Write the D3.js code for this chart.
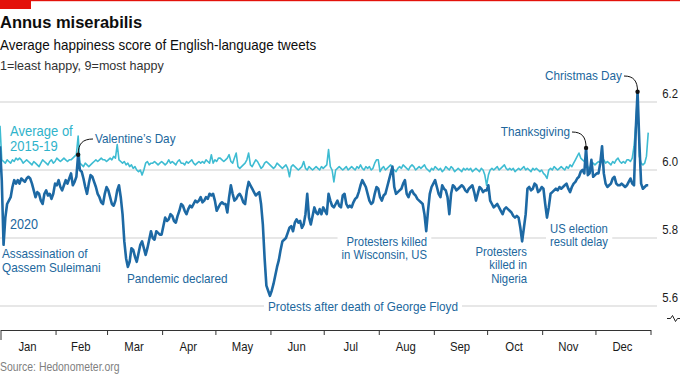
<!DOCTYPE html>
<html>
<head>
<meta charset="utf-8">
<script src="https://cdn.jsdelivr.net/npm/d3@7"></script>
<style>
  body { margin: 0; background: #fff; }
  svg { display: block; font-family: "Liberation Sans", Arial, sans-serif; }
</style>
</head>
<body>
<svg id="chart" width="680" height="375"></svg>
<script>
// daily happiness score, one value per day of 2020 (leap year, 366 days)
const happy2020 = [
  // Jan
  6.07, 5.97, 5.78, 5.86, 5.90, 5.91, 5.92, 5.95, 5.97, 5.96, 5.97, 5.96, 5.975, 5.97, 5.965, 5.975,
  5.98, 5.975, 5.96, 5.94, 5.92, 5.935, 5.93, 5.91, 5.90, 5.93, 5.94, 5.925, 5.93, 5.915, 5.93,
  // Feb
  5.96, 5.955, 5.97, 5.95, 5.94, 5.955, 5.97, 5.96, 5.975, 5.99, 5.955, 5.965, 5.98, 6.045, 6.00,
  5.995, 5.975, 5.95, 5.93, 5.96, 5.985, 5.98, 5.965, 5.95, 5.93, 5.92, 5.905, 5.90, 5.93,
  // Mar
  5.95, 5.94, 5.92, 5.90, 5.895, 5.91, 5.94, 5.955, 5.92, 5.87, 5.79, 5.74, 5.715, 5.73, 5.77, 5.765,
  5.745, 5.73, 5.755, 5.78, 5.79, 5.77, 5.75, 5.77, 5.795, 5.82, 5.80, 5.795, 5.82, 5.815, 5.81,
  // Apr
  5.81, 5.835, 5.86, 5.85, 5.855, 5.87, 5.865, 5.85, 5.845, 5.865, 5.88, 5.90, 5.895, 5.88, 5.87,
  5.885, 5.895, 5.89, 5.90, 5.91, 5.905, 5.91, 5.92, 5.905, 5.91, 5.92, 5.915, 5.93, 5.925, 5.93,
  // May
  5.91, 5.88, 5.89, 5.90, 5.905, 5.90, 5.90, 5.875, 5.92, 5.955, 5.93, 5.91, 5.915, 5.925, 5.93, 5.92,
  5.905, 5.90, 5.94, 5.965, 5.955, 5.945, 5.935, 5.925, 5.93, 5.935, 5.90, 5.84, 5.74, 5.66, 5.645,
  // Jun
  5.63, 5.645, 5.665, 5.69, 5.715, 5.735, 5.765, 5.79, 5.795, 5.80, 5.815, 5.83, 5.835, 5.82, 5.845,
  5.855, 5.845, 5.85, 5.83, 5.84, 5.87, 5.93, 5.86, 5.84, 5.865, 5.89, 5.875, 5.87, 5.885, 5.87,
  // Jul
  5.89, 5.88, 5.87, 5.93, 5.91, 5.895, 5.89, 5.90, 5.91, 5.895, 5.89, 5.925, 5.93, 5.90, 5.89, 5.895,
  5.89, 5.905, 5.915, 5.92, 5.935, 5.955, 5.97, 5.96, 5.95, 5.93, 5.91, 5.90, 5.905, 5.93, 5.95,
  // Aug
  5.945, 5.92, 5.91, 5.925, 5.93, 5.95, 5.97, 5.99, 6.01, 5.95, 5.93, 5.935, 5.94, 5.945, 5.96, 5.97,
  5.93, 5.92, 5.935, 5.94, 5.93, 5.925, 5.915, 5.91, 5.905, 5.90, 5.87, 5.82, 5.88, 5.93, 5.95,
  // Sep
  5.96, 5.97, 5.95, 5.93, 5.92, 5.955, 5.945, 5.94, 5.92, 5.87, 5.93, 5.955, 5.95, 5.94, 5.945,
  5.95, 5.955, 5.95, 5.94, 5.935, 5.945, 5.95, 5.955, 5.935, 5.91, 5.93, 5.95, 5.945, 5.935, 5.94,
  // Oct
  5.94, 5.955, 5.91, 5.90, 5.89, 5.895, 5.90, 5.89, 5.88, 5.87, 5.885, 5.89, 5.885, 5.88, 5.875, 5.865,
  5.86, 5.865, 5.86, 5.83, 5.79, 5.83, 5.87, 5.945, 5.95, 5.94, 5.945, 5.96, 5.955, 5.935, 5.94,
  // Nov
  5.95, 5.945, 5.90, 5.86, 5.89, 5.93, 5.935, 5.94, 5.945, 5.94, 5.95, 5.945, 5.95, 5.955, 5.96,
  5.945, 5.935, 5.95, 5.96, 5.965, 5.975, 5.98, 5.995, 6.00, 5.99, 6.065, 5.985, 5.99, 6.03, 5.98,
  // Dec
  5.985, 5.99, 5.99, 6.02, 6.07, 5.99, 5.96, 5.95, 5.955, 5.96, 5.975, 5.98, 5.96, 5.955, 5.955, 5.96,
  5.955, 5.95, 5.955, 5.965, 5.975, 5.96, 5.955, 6.12, 6.23, 6.08, 5.96, 5.945, 5.95, 5.955, 5.955
];

// average of 2015-19 for the same calendar days
const avg2015to19 = [
  // Jan
  6.13, 6.03, 6.025, 6.02, 6.03, 6.025, 6.02, 6.03, 6.025, 6.035, 6.03, 6.035, 6.03, 6.02, 6.025, 6.03,
  6.025, 6.02, 6.015, 6.025, 6.02, 6.015, 6.01, 6.02, 6.03, 6.025, 6.02, 6.015, 6.025, 6.03, 6.02,
  // Feb
  6.025, 6.035, 6.03, 6.025, 6.03, 6.035, 6.03, 6.025, 6.03, 6.03, 6.035, 6.04, 6.045, 6.10, 6.02,
  6.015, 6.01, 6.02, 6.015, 6.01, 6.015, 6.02, 6.025, 6.03, 6.025, 6.03, 6.035, 6.03, 6.03,
  // Mar
  6.025, 6.03, 6.035, 6.03, 6.04, 6.035, 6.075, 6.03, 6.025, 6.02, 6.025, 6.015, 6.02, 6.01, 6.015, 6.005,
  6.01, 6.00, 5.995, 6.00, 5.985, 6.00, 6.02, 6.025, 6.015, 6.02, 6.02, 6.025, 6.02, 6.015, 6.02,
  // Apr
  6.025, 6.02, 6.015, 6.02, 6.03, 6.02, 6.025, 6.02, 6.015, 6.025, 6.03, 6.02, 6.02, 6.015, 6.025,
  6.02, 6.025, 6.03, 6.02, 6.015, 6.02, 6.025, 6.02, 6.025, 6.02, 6.03, 6.025, 6.02, 6.045, 6.02,
  // May
  6.03, 6.025, 6.035, 6.035, 6.03, 6.025, 6.03, 6.035, 6.045, 6.025, 6.02, 6.035, 6.05, 6.01, 6.005, 6.01,
  6.015, 6.02, 6.03, 6.05, 6.015, 6.01, 6.02, 6.03, 6.025, 6.015, 6.005, 6.01, 6.02, 6.025, 6.02,
  // Jun
  6.015, 6.01, 6.005, 6.01, 6.02, 6.015, 6.01, 6.005, 6.01, 6.015, 6.005, 5.98, 6.01, 6.015, 6.01,
  6.005, 6.00, 6.005, 6.01, 6.025, 6.005, 6.00, 6.01, 6.005, 6.00, 6.005, 6.01, 6.005, 6.00, 6.01,
  // Jul
  6.005, 6.01, 6.015, 6.06, 6.01, 6.00, 5.965, 6.00, 6.005, 6.01, 6.005, 6.00, 6.005, 6.01, 6.00, 6.005,
  6.01, 6.005, 6.00, 6.01, 6.005, 6.015, 6.005, 6.00, 6.01, 6.005, 6.01, 6.00, 6.005, 6.02, 6.03,
  // Aug
  6.03, 5.995, 6.005, 6.01, 6.00, 6.005, 6.01, 6.015, 6.005, 6.00, 5.995, 6.005, 6.01, 6.005, 6.015, 6.01,
  6.005, 6.00, 6.01, 6.015, 6.01, 6.00, 6.005, 6.01, 6.005, 6.01, 6.015, 6.005, 6.00, 5.995, 6.005,
  // Sep
  6.00, 6.01, 6.005, 6.00, 6.005, 5.995, 6.00, 6.01, 6.005, 6.00, 6.01, 6.005, 5.995, 6.00, 6.005,
  6.00, 5.995, 6.005, 6.00, 6.005, 6.00, 6.005, 5.995, 6.00, 6.005, 6.00, 5.995, 6.005, 6.00, 5.985,
  // Oct
  5.955, 5.985, 6.00, 6.005, 6.00, 6.005, 6.01, 6.00, 6.005, 6.01, 6.015, 6.005, 6.00, 6.005, 6.00, 6.005,
  5.995, 6.00, 6.005, 6.00, 6.005, 6.01, 6.00, 6.005, 6.00, 5.995, 6.005, 6.00, 6.005, 6.00, 5.995,
  // Nov
  6.00, 5.99, 5.985, 5.975, 6.00, 6.005, 6.00, 6.01, 6.005, 6.00, 6.005, 6.01, 6.005, 6.00, 6.01,
  6.005, 6.015, 6.01, 6.02, 6.03, 6.04, 6.05, 6.035, 6.03, 6.025, 6.02, 6.01, 6.00, 6.015, 6.02,
  // Dec
  6.015, 6.02, 6.025, 6.02, 6.025, 6.03, 6.02, 6.025, 6.02, 6.015, 6.025, 6.02, 6.03, 6.035, 6.025, 6.02,
  6.025, 6.02, 6.03, 6.03, 6.025, 6.035, 6.07, 6.13, 6.23, 6.04, 6.02, 6.015, 6.02, 6.04, 6.11
];

const yTicks = [5.6, 5.8, 6.0, 6.2];
const monthLabels = ['Jan', 'Feb', 'Mar', 'Apr', 'May', 'Jun', 'Jul', 'Aug', 'Sep', 'Oct', 'Nov', 'Dec'];

// events with a black dot and a curved leader: [day index, label]
const pointed = [
  [44, "Valentine\u2019s Day"],
  [330, 'Thanksgiving'],
  [359, 'Christmas Day']
];

const darkBlue = '#1d69a4',
      darkText = '#21679d',
      lightBlue = '#3ebcd2',
      lightText = '#2fb3cb';

const svg = d3.select('#chart');

const dayDate = i => new Date(2020, 0, 1 + i);

const x = d3.scaleTime()
            .domain([new Date(2020, 0, 1), new Date(2021, 0, 1)])
            .range([0, 650]);

const y = d3.scaleLinear()
            .domain([5.6, 6.2])
            .range([306, 102]);

// the original face is a condensed sans, so squeeze the text a bit
function condense(t, k) {
  const w = t.node().getComputedTextLength();
  t.attr('textLength', w * k).attr('lengthAdjust', 'spacingAndGlyphs');
  return t;
}

function txt(s, px, py, size, color, k, anchor) {
  const t = svg.append('text')
               .attr('x', px)
               .attr('y', py)
               .attr('text-anchor', anchor || 'start')
               .style('font-size', size + 'px')
               .attr('fill', color)
               .text(s);
  return condense(t, k);
}

// red tag + top rule
svg.append('rect').attr('x', 0).attr('y', 0).attr('width', 680).attr('height', 1.2).attr('fill', '#e3120b');
svg.append('rect').attr('x', 0).attr('y', 0).attr('width', 31).attr('height', 9).attr('fill', '#e3120b');

svg.append('text').attr('x', 0).attr('y', 28)
   .style('font-weight', 700).style('font-size', '16.5px')
   .attr('fill', '#0d0d0d').text('Annus miserabilis');
txt('Average happiness score of English-language tweets', 0, 50, 15, '#0d0d0d', 0.895);
txt('1=least happy, 9=most happy', 0, 69.5, 13.5, '#333', 0.93);

// gridlines
svg.append('g').selectAll('line')
   .data(yTicks)
   .enter()
   .append('line')
   .attr('x1', 0)
   .attr('x2', 657)
   .attr('y1', d => y(d))
   .attr('y2', d => y(d))
   .attr('stroke', '#cfcfcf')
   .attr('stroke-width', 1.2);

yTicks.forEach(d => txt(d3.format('.1f')(d), 678, y(d) - 4, 13.5, '#1a1a1a', 0.84, 'end'));

// axis-break mark under the bottom label
svg.append('path')
   .attr('d', 'M667,318.5h3.5l2,-3l3,6l2,-3h2.5')
   .attr('fill', 'none').attr('stroke', '#222').attr('stroke-width', 1);

// x axis
const xAxis = d3.axisBottom(x)
                .ticks(d3.timeMonth.every(1))
                .tickSize(5)
                .tickSizeOuter(0)
                .tickFormat('');

const ax = svg.append('g')
              .attr('transform', 'translate(0.5, 330)')
              .call(xAxis);
ax.select('.domain').attr('stroke', '#333');
ax.selectAll('.tick line').attr('stroke', '#333');
ax.select('.tick line').attr('y2', 10);

monthLabels.forEach((m, i) => {
  const mid = (x(new Date(2020, i, 1)) + x(new Date(2020, i + 1, 1))) / 2;
  txt(m, mid, 351, 13.5, '#1a1a1a', 0.84, 'middle');
});

txt('Source: Hedonometer.org', 0, 371, 12, '#7f7f7f', 0.87);

// multi-line label; those sitting on gridlines get a white backing
function label(lines, px, py, anchor, color, backed, lead, size, k) {
  const g = svg.append('g');
  const ts = lines.map((s, i) => {
    const t = g.append('text')
               .attr('x', px)
               .attr('y', py + i * (lead || 13))
               .attr('text-anchor', anchor)
               .style('font-size', (size || 13.5) + 'px')
               .attr('fill', color)
               .text(s);
    return condense(t, k || 0.87);
  });
  if (backed) {
    const boxes = ts.map(t => t.node().getBBox());
    const x0 = d3.min(boxes, b => b.x), x1 = d3.max(boxes, b => b.x + b.width);
    const y0 = d3.min(boxes, b => b.y), y1 = d3.max(boxes, b => b.y + b.height);
    g.insert('rect', 'text')
     .attr('x', x0 - 4).attr('y', y0)
     .attr('width', x1 - x0 + 8).attr('height', y1 - y0)
     .attr('fill', '#fff');
  }
  return g;
}

// lines
const line = d3.line()
               .x((d, i) => x(dayDate(i)))
               .y(d => y(d));

svg.append('path')
   .datum(avg2015to19)
   .attr('d', line)
   .attr('fill', 'none')
   .attr('stroke', lightBlue)
   .attr('stroke-width', 1.6)
   .attr('stroke-linejoin', 'round');

svg.append('path')
   .datum(happy2020)
   .attr('d', line)
   .attr('fill', 'none')
   .attr('stroke', darkBlue)
   .attr('stroke-width', 2.6)
   .attr('stroke-linejoin', 'round');

// series labels
label(['Average of', '2015-19'], 10, 136, 'start', lightText, false, 15, 14, 0.93);
label(['2020'], 10, 229, 'start', darkText, false, 13, 14, 0.9);

// event labels
label(['Assassination of', 'Qassem Suleimani'], 2, 258, 'start', darkText, false, 14);
label(['Pandemic declared'], 127, 283, 'start', darkText, false);
label(['Protests after death of George Floyd'], 268, 311, 'start', darkText, true);
label(['Protesters killed', 'in Wisconsin, US'], 427, 245.5, 'end', darkText, true, 13.5, 13);
label(['Protesters', 'killed in', 'Nigeria'], 527, 255.5, 'end', darkText, false, 13.5, 13);
label(['US election', 'result delay'], 550, 232.5, 'start', darkText, true, 13.5, 13);

// pointed events: text, curved leader, dot
const leaderSpec = {
  44:  { tx: 95,  ty: 143, anchor: 'start', sx: 93,  sy: 139 },
  330: { tx: 570, ty: 136, anchor: 'end',   sx: 572, sy: 132 },
  359: { tx: 622, ty: 80,  anchor: 'end',   sx: 624, sy: 76 }
};

pointed.forEach(([i, name]) => {
  const s = leaderSpec[i];
  const px = x(dayDate(i)),
        py = y(happy2020[i]);
  label([name], s.tx, s.ty, s.anchor, darkText, false);
  const path = d3.path();
  path.moveTo(s.sx, s.sy);
  path.bezierCurveTo(s.sx + (px - s.sx) * 0.7, s.sy, px, s.sy + (py - s.sy) * 0.3, px, py);
  svg.append('path').attr('d', path.toString())
     .attr('fill', 'none').attr('stroke', '#111').attr('stroke-width', 1);
  svg.append('circle').attr('cx', px).attr('cy', py).attr('r', 2.2).attr('fill', '#111');
});
</script>
</body>
</html>
